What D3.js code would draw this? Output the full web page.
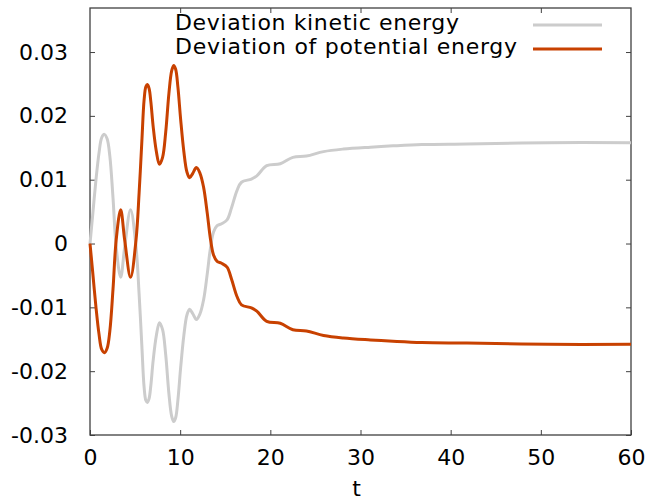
<!DOCTYPE html>
<html>
<head>
<meta charset="utf-8">
<script src="https://cdn.jsdelivr.net/npm/d3@7"></script>
<style>
  html, body { margin: 0; padding: 0; background: #fff; }
  svg { display: block; font-family: "DejaVu Sans", sans-serif; }
</style>
</head>
<body>
<svg id="chart" width="649" height="503"></svg>
<script>
// Time samples (t) shared by both series
const tValues = [0, 0.3, 0.65, 1.0, 1.3, 1.6, 1.9, 2.2, 2.55, 2.9, 3.4, 3.85, 4.5, 5.1, 5.45, 5.75, 6.0, 6.2,
  6.36, 6.55, 6.75, 7.0, 7.35, 7.7, 8.05, 8.4, 8.75, 9.05, 9.28, 9.5, 9.75, 10.05, 10.4,
  10.75, 11.05, 11.4, 11.8, 12.2, 12.6, 13.0, 13.35, 13.7, 14.1, 14.6, 15.2, 15.7, 16.3,
  16.8, 17.9, 18.5, 19.6, 21.1, 22.5, 24.0, 25.9, 28.1, 31.1, 33.6, 36.8, 41.8, 50.8, 60];

// Deviation of potential energy
const potentialDev = [0, -0.0045, -0.0098, -0.0142, -0.0166, -0.0171, -0.0164, -0.0137, -0.0072, 0.0005,
  0.0053, 0.0005, -0.0053,
  0.0005, 0.0080, 0.0160, 0.0225, 0.0246, 0.0249, 0.0243, 0.0222, 0.0184, 0.0145, 0.0124, 0.0135,
  0.0175, 0.0235, 0.0270, 0.0279, 0.0273, 0.0245, 0.0195, 0.0145, 0.0112, 0.0103, 0.0110, 0.0119,
  0.0110, 0.0088, 0.0048, 0.0008, -0.0018, -0.0028, -0.0031, -0.0037, -0.0056, -0.0083, -0.0096,
  -0.0101, -0.0106, -0.0122, -0.0125, -0.0135, -0.0137, -0.0144, -0.0148, -0.0151, -0.0153,
  -0.0155, -0.0156, -0.0158, -0.0158];

// Deviation of kinetic energy
const kineticDev = [0, 0.0045, 0.0098, 0.0142, 0.0166, 0.0171, 0.0164, 0.0137, 0.0072, -0.0005,
  -0.0053, -0.0005, 0.0053,
  -0.0005, -0.0080, -0.0160, -0.0225, -0.0246, -0.0249, -0.0243, -0.0222, -0.0184, -0.0145, -0.0124, -0.0135,
  -0.0175, -0.0235, -0.0270, -0.0279, -0.0273, -0.0245, -0.0195, -0.0145, -0.0112, -0.0103, -0.0110, -0.0119,
  -0.0110, -0.0088, -0.0048, -0.0008, 0.0018, 0.0028, 0.0031, 0.0037, 0.0056, 0.0083, 0.0096,
  0.0101, 0.0106, 0.0122, 0.0125, 0.0135, 0.0137, 0.0144, 0.0148, 0.0151, 0.0153,
  0.0155, 0.0156, 0.0158, 0.0158];

const xTicks = [0, 10, 20, 30, 40, 50, 60];
const yTicks = [-0.03, -0.02, -0.01, 0, 0.01, 0.02, 0.03];
const yTickLabels = ["-0.03", "-0.02", "-0.01", "0", "0.01", "0.02", "0.03"];
const seriesNames = ["Deviation kinetic energy", "Deviation of potential energy"];
const seriesColors = ["#cccccc", "#c84100"];

const plot = { left: 90, right: 631, top: 8, bottom: 435 };
const svg = d3.select("#chart");

const x = d3.scaleLinear().domain([0, 60]).range([plot.left, plot.right]);
const y = d3.scaleLinear().domain([-0.03, 0.0369]).range([plot.bottom, plot.top]);

const axisColor = "#404040";
const tickLen = 5;

// Axes with inward ticks, mirrored on top and right
function styleAxis(g) {
  g.select(".domain").remove();
  g.selectAll(".tick line").attr("stroke", axisColor).attr("stroke-width", 1);
  g.selectAll(".tick text").attr("fill", "#000").attr("font-size", 22)
    .attr("font-family", "DejaVu Sans, sans-serif");
}

svg.append("g")
  .attr("transform", `translate(0,${plot.bottom})`)
  .call(d3.axisBottom(x).tickValues(xTicks).tickSizeInner(-tickLen).tickSizeOuter(0).tickPadding(14))
  .call(styleAxis);

svg.append("g")
  .attr("transform", `translate(0,${plot.top})`)
  .call(d3.axisTop(x).tickValues(xTicks.slice(1, -1)).tickSizeInner(-tickLen).tickSizeOuter(0).tickFormat(""))
  .call(styleAxis);

svg.append("g")
  .attr("transform", `translate(${plot.left},0)`)
  .call(d3.axisLeft(y).tickValues(yTicks).tickSizeInner(-tickLen).tickSizeOuter(0).tickPadding(22)
    .tickFormat((d, i) => yTickLabels[i]))
  .call(styleAxis);

svg.append("g")
  .attr("transform", `translate(${plot.right},0)`)
  .call(d3.axisRight(y).tickValues(yTicks).tickSizeInner(-tickLen).tickSizeOuter(0).tickFormat(""))
  .call(styleAxis);

// Plot border
svg.append("rect")
  .attr("x", plot.left).attr("y", plot.top)
  .attr("width", plot.right - plot.left).attr("height", plot.bottom - plot.top)
  .attr("fill", "none").attr("stroke", axisColor).attr("stroke-width", 1.3);

// Curves
const line = d3.line()
  .x(d => x(d[0]))
  .y(d => y(d[1]))
  .curve(d3.curveCatmullRom.alpha(0.5));

const series = [kineticDev, potentialDev];
series.forEach((vals, i) => {
  svg.append("path")
    .datum(tValues.map((t, k) => [t, vals[k]]))
    .attr("d", line)
    .attr("fill", "none")
    .attr("stroke", seriesColors[i])
    .attr("stroke-width", 3)
    .attr("stroke-linejoin", "round");
});

// Key
const keyRows = [{ y: 25, base: 30, len: 284 }, { y: 49, base: 54, len: 342 }];
seriesNames.forEach((name, i) => {
  svg.append("text")
    .attr("x", 175).attr("y", keyRows[i].base)
    .attr("font-size", 22).attr("fill", "#000")
    .attr("textLength", keyRows[i].len).attr("lengthAdjust", "spacing")
    .text(name);
  svg.append("line")
    .attr("x1", 533).attr("x2", 602)
    .attr("y1", keyRows[i].y).attr("y2", keyRows[i].y)
    .attr("stroke", seriesColors[i]).attr("stroke-width", 3);
});

// X axis title
svg.append("text")
  .attr("x", (plot.left + plot.right) / 2 - 4).attr("y", 496)
  .attr("text-anchor", "middle").attr("font-size", 22).attr("fill", "#000")
  .text("t");
</script>
</body>
</html>
